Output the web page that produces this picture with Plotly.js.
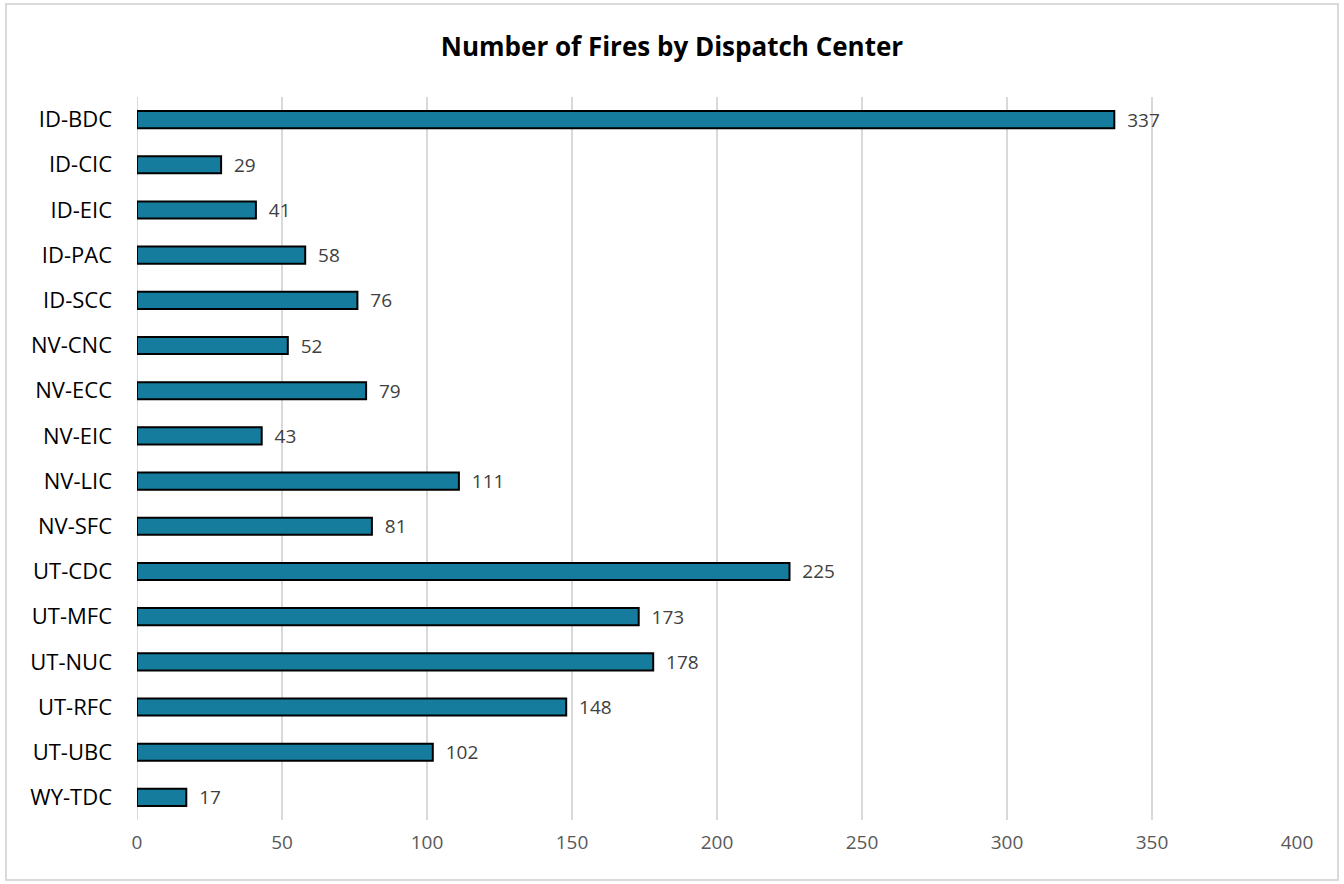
<!DOCTYPE html>
<html>
<head>
<meta charset="utf-8">
<script src="https://cdn.plot.ly/plotly-3.0.1.min.js"></script>
<style>html,body{margin:0;padding:0;background:#fff;}#chart{width:1344px;height:884px;}</style>
</head>
<body>
<div id="chart"></div>
<script>
const centers = ["ID-BDC","ID-CIC","ID-EIC","ID-PAC","ID-SCC","NV-CNC","NV-ECC","NV-EIC","NV-LIC","NV-SFC","UT-CDC","UT-MFC","UT-NUC","UT-RFC","UT-UBC","WY-TDC"];
const fires = [337,29,41,58,76,52,79,43,111,81,225,173,178,148,102,17];
const xTicks = [0,50,100,150,200,250,300,350,400];

const W = 1344, H = 884;
const mL = 137, mR = 47, mT = 97, mB = 64;
const pw = W - mL - mR, ph = H - mT - mB;
const px = v => (v - mL) / pw;
const py = v => 1 - (v - mT) / ph;

const labelFont = {family: 'Open Sans, sans-serif', size: 19, color: '#404040'};

const trace = {
  type: 'bar',
  orientation: 'h',
  y: centers,
  x: fires,
  width: 0.38,
  marker: {color: '#167C9E', line: {color: '#000000', width: 2}},
  text: fires.map(v => '  ' + v),
  textposition: 'outside',
  constraintext: 'none',
  cliponaxis: false,
  textfont: labelFont,
  outsidetextfont: labelFont,
  hoverinfo: 'x+y'
};

const layout = {
  width: W, height: H,
  margin: {l: mL, r: mR, t: mT, b: mB},
  paper_bgcolor: '#ffffff',
  plot_bgcolor: '#ffffff',
  showlegend: false,
  title: {text: '<b>Number of Fires by Dispatch Center</b>', font: {family: 'Open Sans, sans-serif', size: 26, color: '#000000'}, x: 0.5, xanchor: 'center', y: 1 - 47 / H, yanchor: 'middle'},
  xaxis: {
    range: [0, 400], tickvals: xTicks, ticktext: xTicks.map(String),
    showgrid: true, gridcolor: '#d9d9d9', gridwidth: 2,
    zeroline: false, showline: false, ticks: '',
    tickfont: {family: 'Open Sans, sans-serif', size: 19, color: '#595959'},
    ticklabelstandoff: 9
  },
  yaxis: {
    autorange: 'reversed', showgrid: false, zeroline: false, showline: false, ticks: '',
    tickfont: {family: 'Open Sans, sans-serif', size: 22, color: '#000000'},
    ticklabelstandoff: 24
  },
  shapes: [
    {type: 'line', xref: 'x', yref: 'paper', x0: 0, x1: 0, y0: 0, y1: 1, line: {color: '#d9d9d9', width: 2}, layer: 'below'},
    {type: 'rect', xref: 'paper', yref: 'paper', x0: px(6), x1: px(1338), y0: py(880), y1: py(4), line: {color: '#d9d9d9', width: 2}, fillcolor: 'rgba(0,0,0,0)'}
  ]
};

Plotly.newPlot('chart', [trace], layout, {displayModeBar: false, staticPlot: true});
</script>
</body>
</html>
